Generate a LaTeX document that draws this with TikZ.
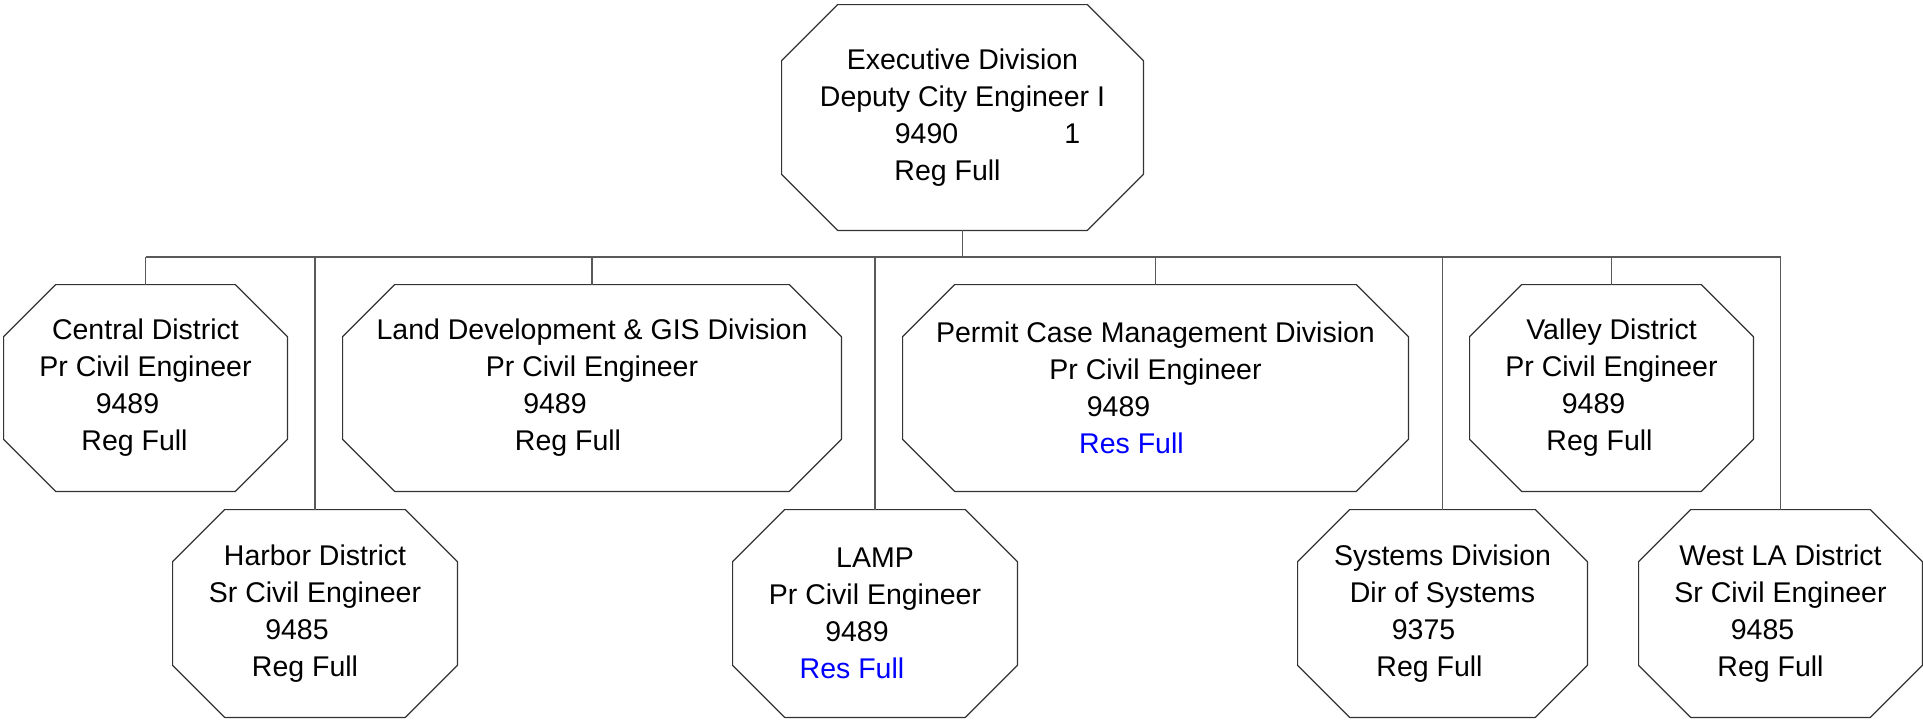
\documentclass[tikz,border=0pt]{standalone}
\usepackage{fontspec}
\setmainfont{Liberation Sans}

% shift a centred line to the left by #1 px
\newcommand\toleft[2]{\hbox{#2\kern#1pt}}
\newcommand\resfull{\textcolor{blue}{Res Full}}

\tikzset{
  unit/.style={rectangle, inner sep=0pt, align=center,
    font=\fontsize{14.25}{18.5}\selectfont},
  narrow/.style={unit, minimum width=141.5pt, minimum height=103pt},
  wide/.style={unit, minimum width=250pt, minimum height=103pt},
  frame/.style={draw=black!80, line width=.6pt, line join=round},
  link/.style={draw=black!65, line width=.6pt},
}

\begin{document}
\begin{tikzpicture}[x=.5pt,y=-.5pt]
	\useasboundingbox (0,0) rectangle (1923,720);

	% top of the chart
	\node[unit, minimum width=180.5pt, minimum height=112.5pt] (exec) at (962.5,117.5)
		{Executive Division\\Deputy City Engineer I\\\toleft{-25}{9490\hspace*{53pt}1}\\\toleft{15}{Reg Full}};
	\coordinate (bus) at (963,257);

	% upper row
	\node[narrow] (central) at (145.5,388)
		{Central District\\Pr Civil Engineer\\\toleft{18}{9489}\\\toleft{11}{Reg Full}};
	\node[wide, minimum width=249pt] (landdev) at (592,388)
		{Land Development \& GIS Division\\Pr Civil Engineer\\\toleft{37}{9489}\\\toleft{24}{Reg Full}};
	\node[wide, minimum width=252.5pt] (permit) at (1155.5,388)
		{Permit Case Management Division\\Pr Civil Engineer\\\toleft{37}{9489}\\\toleft{24}{\resfull}};
	\node[narrow] (valley) at (1611.5,388)
		{Valley District\\Pr Civil Engineer\\\toleft{18}{9489}\\\toleft{12}{Reg Full}};

	% lower row
	\node[narrow, minimum width=142pt, minimum height=103.5pt] (harbor) at (315,613.5)
		{Harbor District\\Sr Civil Engineer\\\toleft{18}{9485}\\\toleft{10}{Reg Full}};
	\node[narrow, minimum width=142pt, minimum height=103.5pt] (lamp) at (875,613.5)
		{LAMP\\Pr Civil Engineer\\\toleft{18}{9489}\\\toleft{23}{\resfull}};
	\node[narrow, minimum width=144.5pt, minimum height=103.5pt] (systems) at (1442.5,613.5)
		{Systems Division\\Dir of Systems\\\toleft{19}{9375}\\\toleft{13}{Reg Full}};
	\node[narrow, minimum height=103.5pt] (westla) at (1780.5,613.5)
		{West LA District\\Sr Civil Engineer\\\toleft{18}{9485}\\\toleft{10}{Reg Full}};

	% octagon outlines, corner cut \c
	\foreach \u/\c in {exec/28pt,central/26pt,landdev/26pt,permit/26pt,valley/26pt,
			harbor/26pt,lamp/26pt,systems/26pt,westla/26pt}
		\draw[frame] ([xshift=\c]\u.north west) -- ([xshift=-\c]\u.north east)
			-- ([yshift=-\c]\u.north east) -- ([yshift=\c]\u.south east)
			-- ([xshift=-\c]\u.south east) -- ([xshift=\c]\u.south west)
			-- ([yshift=\c]\u.south west) -- ([yshift=-\c]\u.north west) -- cycle;

	% connectors
	\draw[link] (exec.south) -- (exec.south |- bus);
	\draw[link] (central.north |- bus) -- (westla.north |- bus);
	\foreach \u in {central,harbor,landdev,lamp,permit,systems,valley,westla}
		\draw[link] (\u.north) -- (\u.north |- bus);
\end{tikzpicture}
\end{document}
